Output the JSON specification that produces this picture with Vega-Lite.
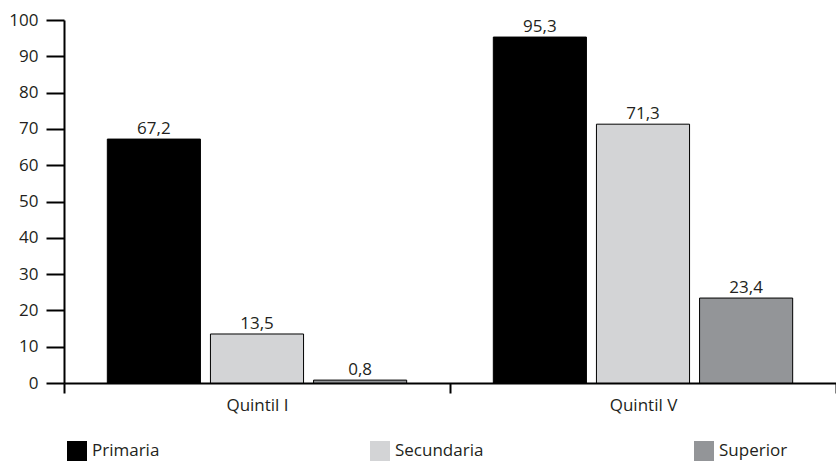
{
  "$schema": "https://vega.github.io/schema/vega-lite/v6.json",
  "width": 772,
  "height": 363,
  "autosize": {"type": "none"},
  "padding": {"left": 64, "top": 20, "right": 0, "bottom": 78},
  "background": "white",
  "config": {
    "font": "Open Sans",
    "view": {"stroke": null},
    "locale": {"number": {"decimal": ",", "thousands": ".", "grouping": [3], "currency": ["", ""]}},
    "axis": {"labelFont": "Open Sans", "labelFontSize": 17, "labelColor": "#231f20", "domainColor": "#000000", "tickColor": "#000000", "grid": false, "title": null}
  },
  "data": {
    "values": [
      {"quintil": "Quintil I", "nivel": "Primaria", "valor": 67.2},
      {"quintil": "Quintil I", "nivel": "Secundaria", "valor": 13.5},
      {"quintil": "Quintil I", "nivel": "Superior", "valor": 0.8},
      {"quintil": "Quintil V", "nivel": "Primaria", "valor": 95.3},
      {"quintil": "Quintil V", "nivel": "Secundaria", "valor": 71.3},
      {"quintil": "Quintil V", "nivel": "Superior", "valor": 23.4}
    ]
  },
  "encoding": {
    "x": {
      "field": "quintil", "type": "nominal",
      "scale": {"paddingInner": 0, "paddingOuter": 0},
      "axis": {"labelAngle": 0, "tickBand": "extent", "tickSize": 10, "tickWidth": 2, "domainWidth": 2, "labelPadding": 4}
    },
    "xOffset": {
      "field": "nivel", "type": "nominal",
      "sort": ["Primaria", "Secundaria", "Superior"],
      "scale": {"paddingInner": 0.097, "paddingOuter": 0.42}
    },
    "y": {
      "field": "valor", "type": "quantitative",
      "scale": {"domain": [0, 100], "nice": false},
      "axis": {"values": [0, 10, 20, 30, 40, 50, 60, 70, 80, 90, 100], "tickSize": 18, "tickWidth": 2, "domainWidth": 2, "labelPadding": 8}
    }
  },
  "layer": [
    {
      "mark": {"type": "bar", "stroke": "#000000", "strokeWidth": 1},
      "encoding": {
        "color": {
          "field": "nivel", "type": "nominal",
          "sort": ["Primaria", "Secundaria", "Superior"],
          "scale": {"domain": ["Primaria", "Secundaria", "Superior"], "range": ["#000000", "#d3d4d6", "#939598"]},
          "legend": {
            "title": null, "orient": "none", "direction": "horizontal", "columns": 3,
            "legendX": 3, "legendY": 421,
            "symbolType": "square", "symbolSize": 400, "symbolStrokeWidth": 0,
            "labelFont": "Open Sans", "labelFontSize": 17, "labelColor": "#231f20",
            "labelOffset": 5, "columnPadding": 210
          }
        }
      }
    },
    {
      "mark": {"type": "text", "dy": -10, "fontSize": 17, "color": "#231f20", "font": "Open Sans"},
      "encoding": {
        "text": {"field": "valor", "type": "quantitative", "format": ".1f"}
      }
    }
  ]
}
